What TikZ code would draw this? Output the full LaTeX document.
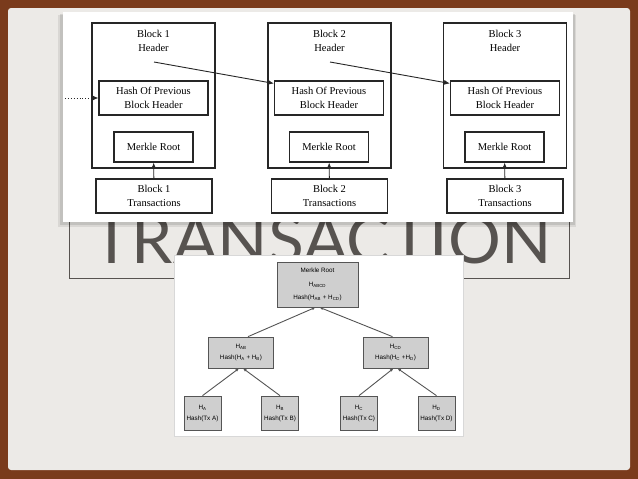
\documentclass[tikz,border=0pt]{standalone}
\usepackage{fontspec}
\setmainfont{Liberation Serif}
\newfontfamily\treefont{Liberation Sans}
\newfontfamily\titlefont{Lato}
\usetikzlibrary{arrows.meta,positioning}
\definecolor{FrameBrown}{HTML}{7A3B1C}
\definecolor{SlideBg}{HTML}{ECEAE7}
\definecolor{TitleGray}{HTML}{575350}
\definecolor{BoxLine}{HTML}{262626}
\definecolor{TreeLine}{HTML}{555555}
\definecolor{TreeFill}{HTML}{CFCFCF}
\definecolor{PanelEdge}{HTML}{D8D8D8}

\begin{document}
\begin{tikzpicture}[
  x=1pt, y=-1pt,
  >={Latex[length=6pt,width=5pt]},
  box/.style={draw=BoxLine, line width=1.1pt, fill=white, inner sep=0pt, align=center, font=\fontsize{10.5}{13.5}\selectfont},
  hdr/.style={box, minimum width=123pt, minimum height=145pt},
  prevhash/.style={box, minimum width=109pt, minimum height=34pt},
  mroot/.style={box, minimum width=79pt, minimum height=30pt},
  txbox/.style={box, minimum width=116pt, minimum height=34pt},
  hdrtext/.style={inner sep=0pt, align=center, font=\fontsize{10.5}{14}\selectfont},
  tnode/.style={draw=TreeLine, fill=TreeFill, line width=0.7pt, inner sep=0pt, align=center, font=\treefont\fontsize{6.3}{11}\selectfont},
  rootbox/.style={tnode, minimum width=81pt, minimum height=45pt, font=\treefont\fontsize{6.3}{12.5}\selectfont},
  midbox/.style={tnode, minimum width=65pt, minimum height=31pt},
  leafbox/.style={tnode, minimum width=37pt, minimum height=34pt},
  link/.style={draw=TreeLine, line width=0.9pt, -{Latex[length=3.5pt,width=3pt]}}
]
\useasboundingbox (0,0) rectangle (638,479);

% Slide background
\fill[FrameBrown] (0,0) rectangle (638,479);
\fill[SlideBg, rounded corners=3pt] (8,8) rectangle (630,470);

% Title behind the pictures
\draw[TitleGray, line width=0.9pt] (69,150) rectangle (569,278);
\node[anchor=base, inner sep=0pt, text=TitleGray, font=\titlefont\fontsize{66}{66}\selectfont] (title) at (322,263) {TRANSACTION};

% Top picture - block chain
\fill[black, opacity=0.08] (58,15) rectangle (576,227);
\fill[black, opacity=0.10] (60,14) rectangle (575,225);
\fill[white] (63,12) rectangle (573,222);

\node[hdr] (h1) at (153.5,95.5) {};
\node[hdr] (h2) at (329.5,95.5) {};
\node[hdr] (h3) at (505,95.5) {};
\node[hdrtext, below=8pt of h1.north] (h1t) {Block 1\\Header};
\node[hdrtext, below=8pt of h2.north] (h2t) {Block 2\\Header};
\node[hdrtext, below=8pt of h3.north] (h3t) {Block 3\\Header};

\node[prevhash] (ph1) at (153.5,98) {Hash Of Previous\\Block Header};
\node[prevhash] (ph2) at (329,98) {Hash Of Previous\\Block Header};
\node[prevhash] (ph3) at (505,98) {Hash Of Previous\\Block Header};

\node[mroot] (mr1) at (153.5,147) {Merkle Root};
\node[mroot] (mr2) at (329,147) {Merkle Root};
\node[mroot] (mr3) at (504.5,147) {Merkle Root};

\node[txbox] (tx1) at (154,196) {Block 1\\Transactions};
\node[txbox] (tx2) at (329.5,196) {Block 2\\Transactions};
\node[txbox] (tx3) at (505,196) {Block 3\\Transactions};

% links between headers
\coordinate (p1) at (154,62);
\coordinate (p2) at (330,62);
\coordinate (p0) at (65,98);
\draw[BoxLine, line width=0.9pt, ->] (p1) -- ([yshift=-3pt]ph2.north west);
\draw[BoxLine, line width=0.9pt, ->] (p2) -- ([yshift=-3pt]ph3.north west);
\draw[BoxLine, line width=0.9pt, dotted, ->] (p0) -- (ph1.west);

% transactions to merkle roots
\draw[BoxLine, line width=0.9pt, ->] (tx1) -- (mr1);
\draw[BoxLine, line width=0.9pt, ->] (tx2) -- (mr2);
\draw[BoxLine, line width=0.9pt, ->] (tx3) -- (mr3);

% Bottom picture - merkle tree
\filldraw[fill=white, draw=PanelEdge, line width=0.6pt] (174,255) rectangle (463,436);

\node[rootbox] (root) at (317.5,284.5) {Merkle Root\\[1.5pt]H\textsubscript{ABCD}\\Hash(H\textsubscript{AB} + H\textsubscript{CD})};
\node[midbox] (hab) at (241,352.5) {H\textsubscript{AB}\\Hash(H\textsubscript{A} + H\textsubscript{B})};
\node[midbox] (hcd) at (395.5,352.5) {H\textsubscript{CD}\\Hash(H\textsubscript{C} +H\textsubscript{D})};
\node[leafbox] (ha) at (202.5,413) {H\textsubscript{A}\\Hash(Tx A)};
\node[leafbox] (hb) at (280,413) {H\textsubscript{B}\\Hash(Tx B)};
\node[leafbox] (hc) at (359,413) {H\textsubscript{C}\\Hash(Tx C)};
\node[leafbox] (hd) at (436.5,413) {H\textsubscript{D}\\Hash(Tx D)};

\draw[link] ([xshift=7pt]hab.north) -- ([xshift=-2pt]root.south);
\draw[link] ([xshift=-3pt]hcd.north) -- ([xshift=2pt]root.south);
\draw[link] (ha.north) -- ([xshift=-2pt]hab.south);
\draw[link] (hb.north) -- ([xshift=2pt]hab.south);
\draw[link] (hc.north) -- ([xshift=-2pt]hcd.south);
\draw[link] (hd.north) -- ([xshift=2pt]hcd.south);

\end{tikzpicture}
\end{document}
